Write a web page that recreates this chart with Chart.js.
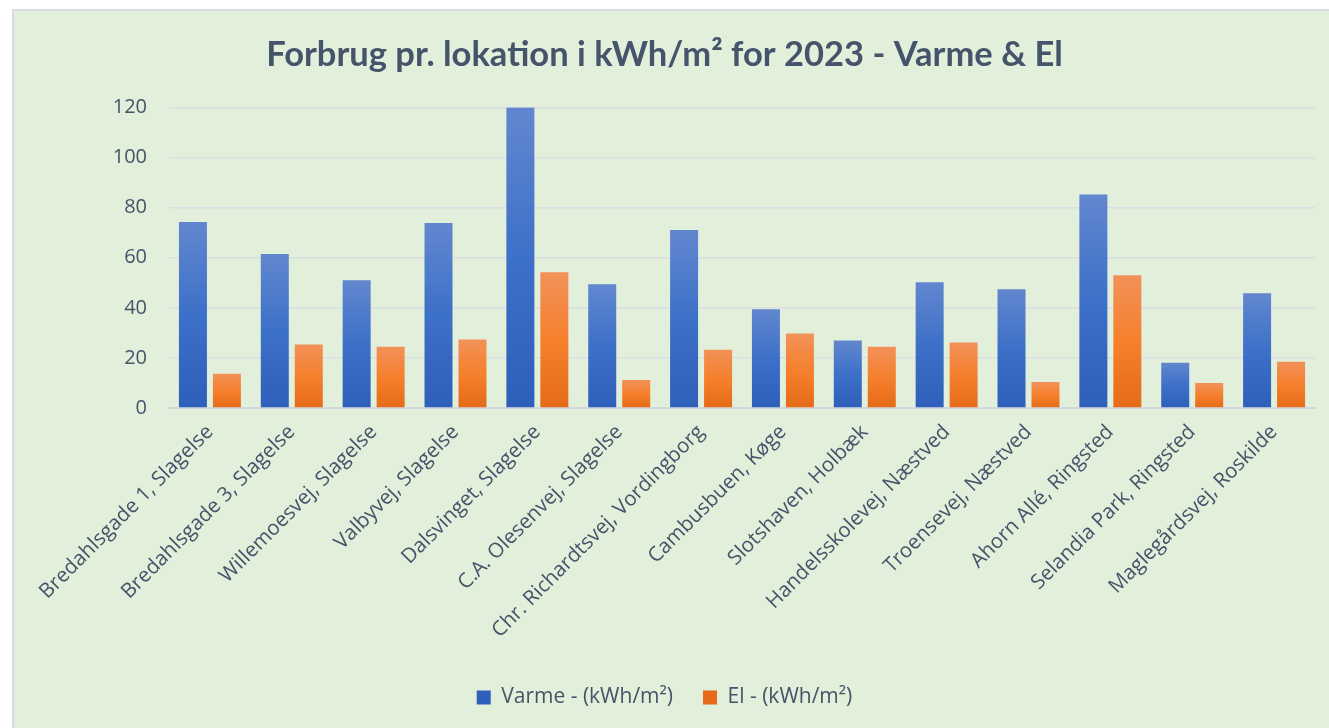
<!DOCTYPE html>
<html>
<head>
<meta charset="utf-8">
<script src="https://cdn.jsdelivr.net/npm/chart.js@4"></script>
<style>
  html, body { margin: 0; padding: 0; background: #fff; }
  #wrap {
    position: absolute; left: 12px; top: 9px; right: 0; bottom: 0;
    background: #e2efda;
    border-left: 2px solid #d8dde4;
    border-top: 2px solid #d8dde4;
  }
</style>
</head>
<body>
<div id="wrap"><canvas id="forbrugChart"></canvas></div>
<script>
const locations = [
    "Bredahlsgade 1, Slagelse",
    "Bredahlsgade 3, Slagelse",
    "Willemoesvej, Slagelse",
    "Valbyvej, Slagelse",
    "Dalsvinget, Slagelse",
    "C.A. Olesenvej, Slagelse",
    "Chr. Richardtsvej, Vordingborg",
    "Cambusbuen, Køge",
    "Slotshaven, Holbæk",
    "Handelsskolevej, Næstved",
    "Troensevej, Næstved",
    "Ahorn Allé, Ringsted",
    "Selandia Park, Ringsted",
    "Maglegårdsvej, Roskilde"
]
const varme = [74.3, 61.5, 51.0, 73.9, 120.1, 49.4, 71.1, 39.4, 26.9, 50.2, 47.4, 85.2, 18.1, 45.8]
const el = [13.7, 25.3, 24.5, 27.3, 54.2, 11.2, 23.3, 29.7, 24.5, 26.1, 10.4, 53.0, 10.0, 18.5]
const yTicks = [0, 20, 40, 60, 80, 100, 120]

const textColor = "#44546a"
Chart.defaults.font.family = "'Open Sans', sans-serif"
Chart.defaults.color = textColor

// Excel-ish per-bar vertical gradient
function barFill(stops, flat) {
    return (context) => {
        const chart = context.chart
        if (!chart.chartArea || context.type !== "data") return flat
        const y = chart.scales.y
        const top = y.getPixelForValue(context.raw)
        const bottom = y.getPixelForValue(0)
        if (!isFinite(top) || top >= bottom) return flat
        const g = chart.ctx.createLinearGradient(0, top, 0, bottom)
        g.addColorStop(0, stops[0])
        g.addColorStop(0.5, stops[1])
        g.addColorStop(1, stops[2])
        return g
    }
}

const ctx = document.getElementById("forbrugChart")
const chart = new Chart(ctx, {
    type: "bar",
    data: {
        labels: locations,
        datasets: [{
            label: "Varme - (kWh/m²)",
            data: varme,
            backgroundColor: barFill(["#6287cf", "#3d70c8", "#2e5fba"], "#4472c4"),
        },
        {
            label: "El - (kWh/m²)",
            data: el,
            backgroundColor: barFill(["#f29159", "#f5802d", "#e56b18"], "#f47e2e"),
        }]
    },
    options: {
        responsive: true,
        maintainAspectRatio: false,
        animation: false,
        categoryPercentage: 0.83,
        barPercentage: 0.824,
        layout: { padding: { left: 0, right: 14, top: 0, bottom: 10 } },
        plugins: {
            title: {
                display: true,
                text: "Forbrug pr. lokation i kWh/m² for 2023 - Varme & El",
                color: textColor,
                font: { family: "Lato, sans-serif", size: 34.5, weight: "bold" },
                padding: { top: 23, bottom: 32 }
            },
            legend: {
                position: "bottom",
                labels: {
                    boxWidth: 14,
                    boxHeight: 14,
                    padding: 30,
                    color: textColor,
                    font: { size: 21 }
                }
            },
            tooltip: { enabled: false }
        },
        scales: {
            x: {
                grid: { display: false },
                border: { color: "#d3d7de", width: 2 },
                ticks: {
                    maxRotation: 45,
                    minRotation: 45,
                    autoSkip: false,
                    padding: 4,
                    font: { size: 20.5 }
                },
                afterFit: (scale) => { scale.height = 249 }
            },
            y: {
                min: 0,
                max: 120,
                border: { display: false },
                grid: { color: "#dadee4", lineWidth: 1.5, drawTicks: false },
                afterBuildTicks: (scale) => { scale.ticks = yTicks.map(v => ({ value: v })) },
                ticks: { padding: 22, font: { size: 20 } },
                afterFit: (scale) => { scale.width = 155 }
            }
        }
    }
})
</script>
</body>
</html>
